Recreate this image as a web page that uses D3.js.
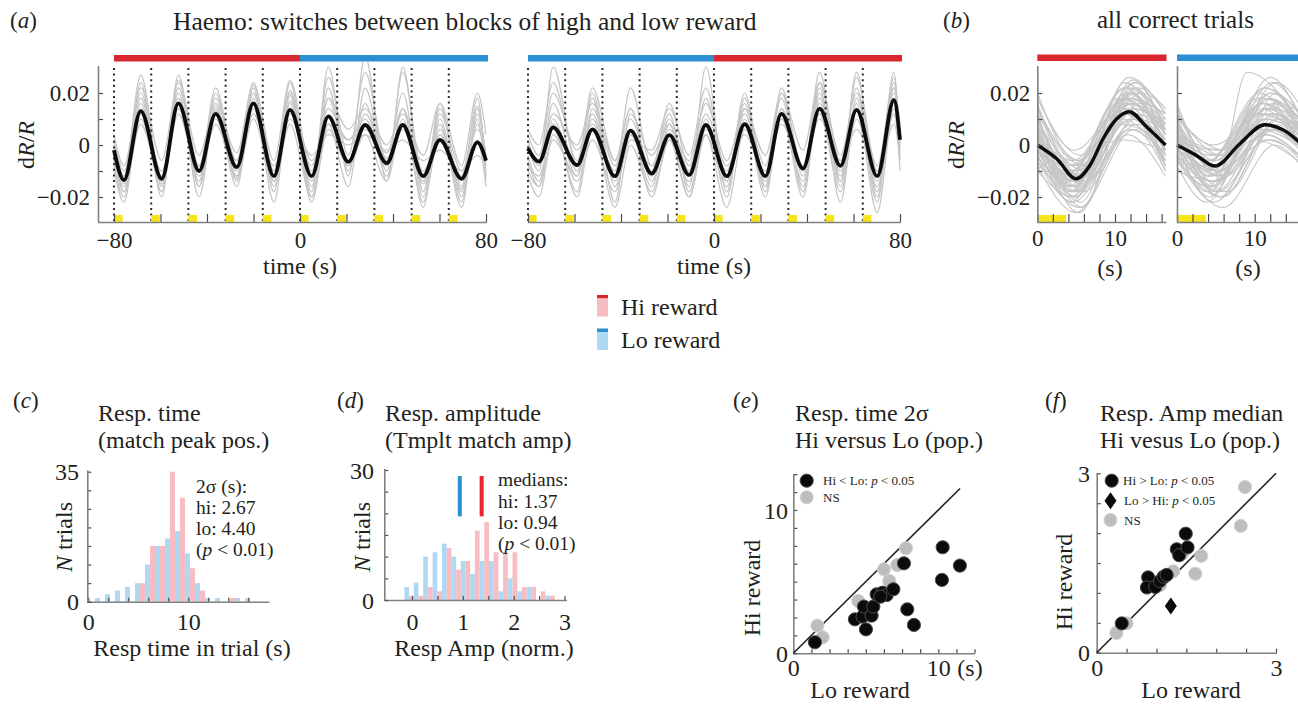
<!DOCTYPE html>
<html>
<head>
<meta charset="utf-8">
<script src="https://cdn.jsdelivr.net/npm/d3@7"></script>
<style>
  body { margin: 0; background: #fff; }
  svg { display: block; }
</style>
</head>
<body>
<svg id="fig" width="1298" height="704"></svg>
<script>
// ---------------------------------------------------------------
// Data (dR/R traces are stored in units of 1e-3)
// ---------------------------------------------------------------

// (a) block-switch traces: knot times (s) for peaks/troughs of each trial
const switchTickValues = [-80, -60, -40, -20, 0, 20, 40, 60, 80];
const switchTickLabels = { "-80": "\u221280", "0": "0", "80": "80" };
const trialOnsets = [-80, -64, -48, -32, -16, 0, 16, 32, 48, 64];
const cueLength = 3.7;
const blocksLeft = [{ start: -80, end: 0, reward: "hi" }, { start: 0, end: 80, reward: "lo" }];
const blocksRight = [{ start: -80, end: 0, reward: "lo" }, { start: 0, end: 80, reward: "hi" }];

const knotsLeft = [-80, -75.7, -68.5, -59.5, -52.3, -43.4, -36.3, -27.2, -20.1, -11.2, -4.3,
  5.0, 12.2, 20.8, 28.0, 37.3, 44.2, 53.0, 60.2, 69.5, 76.3, 80];
const meanLeft = [-2, -13.5, 13, -13, 16, -10, 12, -8.5, 16, -12, 13.5,
  -12, 11, -6.5, 7.7, -7, 7.7, -12, 2, -13, 1, -6];
const sessionsLeft = [
  [-5, -18, 24, -20, 27, -16, 20, -14, 22, -18, 21, -20, 18, -8, 12, -5, 8, -15, 6, -17, 8, -10],
  [2, -10, 20, -12, 22, -8, 18, -6, 24, -10, 20, -14, 26, -4, 28, -6, 20, -20, 10, -22, 12, -4],
  [-8, -20, 14, -18, 18, -14, 15, -12, 20, -16, 17, -6, 8, 2, 6, -3, 14, -10, 4, -12, 15, -8],
  [0, -12, 27, -16, 25, -10, 22, -9, 20, -14, 24, -18, 30, -12, 34, -14, 30, -18, 16, -20, 10, -14],
  [-3, -15, 12, -10, 14, -8, 10, -10, 12, -8, 10, -4, 4, 0, 4, -2, 2, -6, -2, -10, -4, -8],
  [-10, -22, 16, -18, 20, -20, 14, -16, 18, -22, 16, -16, 22, -10, 16, -12, 14, -24, 14, -16, 18, -12],
  [4, -8, 22, -6, 24, -4, 16, -3, 23, -6, 25, -10, 18, 6, 14, 0, 12, -4, 16, -8, 20, 4],
  [-6, -16, 8, -14, 12, -12, 8, -12, 10, -14, 8, -20, 6, -8, 4, -14, 10, -22, 4, -18, 2, -16],
  [-2, -14, 18, -15, 22, -8, 13, -13, 16, -10, 19, -22, 8, -16, 22, -10, 28, -12, 8, -24, 14, -6],
  [-4, -18, 10, -12, 16, -16, 12, -6, 14, -12, 12, -8, 14, 2, 10, -8, 6, -14, 12, -10, 6, -2]
];

const knotsRight = [-80, -75.3, -69.2, -58.9, -52.3, -42.6, -35.9, -26.8, -19.2, -10.7, -3.5,
  5.5, 13.2, 22.1, 29.0, 38.3, 45.4, 54.4, 61.3, 70.2, 77.4, 80];
const meanRight = [-1.3, -6.4, 6.8, -7.7, 6, -12, 5.5, -11, 3.8, -11.5, 7.7,
  -12, 8, -12, 12, -9, 14, -8, 13.5, -12, 17.3, 2];
const sessionsRight = [
  [0, -10, 30, -8, 22, -6, 14, -12, 10, -10, 18, -14, 20, -16, 22, -10, 24, -12, 26, -10, 26, -2],
  [-6, -16, 10, -12, 18, -22, 12, -4, 8, -16, 30, -18, 14, -8, 18, -18, 20, -16, 16, -22, 22, 0],
  [4, -4, 20, -2, 8, -10, 22, -8, 4, -20, 6, -10, 12, -12, 10, -14, 16, -10, 14, -14, 20, 6],
  [-12, -20, 4, -14, 2, -18, 4, -16, 8, -12, 4, -16, 10, -20, 14, -10, 24, -6, 22, -20, 28, -4],
  [2, -8, 16, -10, 12, -14, 6, -20, 2, -14, 10, -20, 18, -14, 20, -12, 28, -14, 28, -18, 24, 4],
  [-8, -12, 6, -18, 14, -8, 10, -10, 16, -8, 12, -8, 4, -10, 8, -8, 10, -6, 6, -10, 8, -6],
  [6, 0, 24, -6, 20, -16, 2, -2, 14, -4, 22, -12, 16, -18, 14, -16, 22, -22, 18, -12, 16, 2],
  [-4, -14, 8, -20, 6, -24, 0, -18, 2, -20, 4, -24, 6, -12, 12, -20, 18, -14, 14, -26, 14, -10],
  [0, -6, 12, 0, 16, -6, 14, -14, 6, -6, 16, -6, 14, -4, 20, -2, 24, -4, 20, -8, 22, 8],
  [-10, -16, 2, -12, 10, -12, 4, -8, 12, -18, 8, -14, 8, -16, 10, -10, 12, -18, 10, -16, 12, -6]
];

const dRTickLabels = { "-20": "\u22120.02", "0": "0", "20": "0.02" };
const dRMinorTicks = [-20, -10, 0, 10, 20];

// (b) all correct trials, 0-16.5 s
const trialTickValues = [0, 2, 4, 6, 8, 10, 12, 14, 16];
const trialTickLabels = { "0": "0", "10": "10" };
const avgHiTimes = [0, 2.5, 5.0, 6.8, 8.5, 10.2, 11.8, 14.1, 16.5];
const avgHi = [0, -5.3, -13, -7.7, 2.6, 10, 12.8, 6.9, 0];
const avgLoTimes = [0, 2.5, 4.9, 8.1, 11.3, 13.7, 16.5];
const avgLo = [0, -4, -8.1, 0.5, 7.8, 5.8, -1];
// each trial: [start value, trough time, trough value, peak time, peak value, end value]
const trialsHi = [
  [10, 4.5, -10, 11.5, 20, 8], [5, 5.0, -14, 12.0, 16, 2], [-2, 4.8, -18, 11.0, 12, -4],
  [14, 5.5, -6, 12.5, 24, 12], [0, 4.2, -20, 12.0, 10, -2], [8, 5.2, -12, 11.8, 18, 4],
  [-6, 4.6, -22, 12.2, 8, -6], [12, 6.0, -8, 13.0, 22, 14], [3, 4.0, -16, 10.8, 14, -8],
  [-4, 5.4, -24, 12.4, 6, -10], [6, 4.4, -10, 11.2, 22, 0], [18, 5.6, -4, 12.8, 20, 10],
  [-8, 5.0, -26, 11.6, 4, -12], [2, 3.8, -14, 10.4, 18, 6], [9, 6.2, -10, 13.2, 16, 12],
  [-1, 4.6, -12, 11.4, 12, 2], [4, 5.3, -18, 12.6, 24, 4], [-3, 4.1, -8, 10.9, 10, -6],
  [11, 5.7, -15, 12.1, 14, 8], [7, 4.9, -20, 11.7, 20, -2], [-5, 5.2, -16, 12.9, 8, 0],
  [1, 4.3, -22, 11.3, 16, -8], [15, 5.8, -12, 12.3, 25, 6], [-10, 4.7, -20, 11.9, 6, -4],
  [6, 3.6, -12, 10.2, 12, 10], [0, 5.5, -8, 13.4, 20, 14], [13, 4.5, -18, 11.1, 18, 2],
  [-2, 6.4, -14, 12.7, 10, 6], [20, 5.1, -6, 11.5, 14, -10], [-7, 4.0, -10, 10.6, 2, -2],
  [3, 5.9, -24, 12.2, 22, 8], [8, 4.8, -16, 11.8, 26, 12],
  [12, 4.3, -14, 11.0, 18, 4], [-4, 5.0, -18, 12.5, 14, 6], [6, 5.6, -22, 12.0, 20, -4],
  [16, 4.7, -8, 11.4, 22, 10], [2, 4.0, -12, 10.8, 8, 0], [-8, 5.3, -14, 12.2, 16, -8],
  [10, 6.0, -18, 13.0, 12, 2], [4, 4.5, -6, 11.6, 18, 12], [-2, 5.1, -20, 11.2, 24, 4],
  [14, 4.9, -10, 12.4, 10, -6], [0, 4.4, -16, 11.9, 16, 8], [8, 5.7, -12, 12.7, 22, -2],
  [-6, 4.2, -18, 10.9, 12, 2], [5, 5.4, -26, 12.1, 18, 6], [18, 4.8, -2, 11.3, 16, 8],
  [-3, 5.0, -14, 12.3, 20, -4]
];
const trialsLo = [
  [8, 4.5, -8, 11.0, 16, 6], [2, 5.2, -12, 11.5, 10, 2], [-4, 4.0, -18, 10.5, 6, -2],
  [12, 5.8, -4, 12.0, 20, 10], [0, 4.6, -14, 11.2, 4, -6], [6, 5.5, -20, 12.4, 12, 4],
  [-8, 3.8, -22, 9.8, 2, -8], [10, 6.2, -2, 12.8, 24, 12], [3, 4.2, -10, 10.8, 8, -4],
  [-2, 5.0, -6, 11.6, 14, 0], [14, 5.3, -12, 9.0, 28, 6], [5, 4.8, -16, 11.8, 18, 8],
  [-6, 6.0, -24, 12.5, 0, -10], [1, 3.5, -8, 10.2, 12, 4], [9, 5.6, -10, 12.2, 6, -2],
  [-3, 4.4, -12, 11.0, 16, 2], [4, 6.5, -18, 13.2, 10, 8], [7, 4.1, -6, 10.6, 20, -4],
  [-10, 5.1, -14, 11.4, 4, -6], [11, 4.7, 0, 11.9, 14, 10], [0, 5.9, -20, 12.6, 8, 0],
  [-5, 3.9, -16, 10.0, 12, 6], [6, 5.4, -4, 11.3, 22, 4], [2, 4.9, -10, 12.1, 2, -8],
  [16, 4.3, -6, 10.4, 18, 12], [-1, 6.1, -12, 12.9, 16, 2], [8, 5.0, -18, 11.7, 6, -2],
  [-7, 4.6, -8, 11.1, 10, 4], [4, 5.7, -2, 12.3, 24, 8], [0, 4.2, -20, 10.9, 14, -4],
  [10, 5.3, -10, 11.6, 12, 6], [-4, 4.8, -14, 12.0, 18, 0],
  [6, 4.4, -16, 11.3, 10, 2], [-2, 5.6, -10, 12.1, 20, 6], [12, 4.9, -6, 10.8, 16, -2],
  [0, 5.2, -18, 12.6, 6, 4], [4, 4.0, -12, 11.0, 18, 8], [-6, 5.8, -20, 12.9, 10, -4],
  [9, 4.6, -14, 11.7, 14, 0], [2, 5.3, -2, 11.2, 22, 10], [-9, 4.3, -16, 10.4, 8, -2],
  [7, 5.0, -8, 12.0, 26, 6], [14, 6.3, -12, 13.0, 12, 2], [-1, 4.8, -22, 11.5, 2, -6],
  [5, 5.5, -10, 12.4, 16, 4], [3, 4.5, -4, 10.7, 12, 10], [-4, 6.0, -18, 12.8, 20, -2],
  [10, 4.2, -12, 11.1, 8, 0]
];

// (c) response-time histogram, 1 s bins
const rtBins = [0, 1, 2, 3, 4, 5, 6, 7, 8, 9, 10, 11, 12, 13, 14, 15];
const rtHi = [0, 0, 0, 0, 0, 5, 15, 15, 35, 28, 9, 3, 0, 0, 1, 0];
const rtLo = [1, 2, 3, 4, 5, 10, 15, 17, 19, 13, 5, 1, 1, 0, 1, 1];
const rtStats = ["2\u03c3 (s):", "hi: 2.67", "lo: 4.40"];

// (d) response-amplitude histogram
const ampBins = [-0.15, 0.035, 0.22, 0.405, 0.59, 0.775, 0.96, 1.145, 1.33, 1.515, 1.70, 1.885, 2.07, 2.255, 2.44, 2.625];
const ampBinWidth = 0.185;
const ampLo = [3, 4, 10, 11, 13, 10, 9, 6, 9, 9, 2, 5, 2, 3, 0, 1];
const ampHi = [1, 1, 3, 2, 12, 7, 9, 16, 18, 11, 11, 11, 3, 3, 2, 1];
const medianHi = 1.37;
const medianLo = 0.94;

// (e) response time 2-sigma per cell (s): [Lo reward, Hi reward]
const rtSigSig = [[1.49, 0.77], [4.25, 2.37], [4.78, 2.56], [4.87, 3.26], [5.01, 1.67], [5.40, 2.63],
  [5.52, 3.26], [5.75, 4.12], [6.16, 4.23], [6.44, 4.07], [6.0, 3.95], [6.9, 4.47], [7.63, 6.28],
  [7.86, 3.07], [8.32, 1.98], [10.3, 7.40], [10.25, 5.12], [11.49, 6.12]];
const rtSigNS = [[1.66, 1.93], [2.02, 1.12], [4.48, 3.65], [6.25, 5.86], [6.62, 5.05], [7.17, 6.16], [7.77, 7.33]];

// (f) response amplitude median per cell: [Lo reward, Hi reward]
const ampHiSig = [[0.42, 0.49], [0.86, 1.26], [0.84, 1.09], [0.98, 1.10], [1.06, 1.20], [1.12, 1.27],
  [1.17, 1.30], [1.34, 1.73], [1.38, 1.63], [1.52, 1.76], [1.49, 1.99]];
const ampLoSig = [[1.24, 0.78]];
const ampNS = [[0.33, 0.33], [0.50, 0.49], [1.06, 1.13], [1.28, 1.36], [1.65, 1.32], [1.75, 1.62],
  [1.43, 1.66], [2.41, 2.12], [2.48, 2.77]];

// ---------------------------------------------------------------
// Styling
// ---------------------------------------------------------------
const FONT = "'Liberation Serif','Times New Roman',Times,serif";
const INK = "#231f20";
const RED = "#d9272e", BLUE = "#2b8fd2";
const PINK = "#f8bcc3", SKY = "#afd8f2";
const YELLOW = "#f6e51b";
const TRACE = "#c6c6c6";
const AXIS = "#808080";

const svg = d3.select("#fig");

function text(x, y, parts, opt = {}) {
  const t = svg.append("text")
    .attr("x", x).attr("y", y)
    .attr("fill", INK)
    .style("font-family", FONT)
    .style("font-size", (opt.size || 24) + "px")
    .attr("text-anchor", opt.anchor || "start");
  if (opt.rotate) t.attr("transform", `rotate(-90,${x},${y})`);
  (Array.isArray(parts) ? parts : [[parts]]).forEach(p => {
    t.append("tspan").text(p[0]).style("font-style", p[1] ? "italic" : "normal");
  });
  return t;
}

function styleAxis(g, fs) {
  g.attr("font-family", null).attr("font-size", null);
  g.select(".domain").remove();
  g.selectAll(".tick line").attr("stroke", "#4a4a4a").attr("stroke-width", 1.2);
  g.selectAll(".tick text").attr("fill", INK).style("font-family", FONT).style("font-size", fs + "px");
}

function bottomAxis(scale, ty, vals, labels, tick, fs, baseline, x0, x1) {
  const g = svg.append("g").attr("transform", `translate(0,${ty})`)
    .call(d3.axisBottom(scale).tickValues(vals)
      .tickFormat(d => labels[String(d)] || "")
      .tickSizeInner(-tick).tickSizeOuter(0));
  styleAxis(g, fs);
  g.selectAll(".tick text").attr("dy", null).attr("y", baseline - ty);
  g.append("line").attr("x1", x0).attr("x2", x1).attr("y1", 0.5).attr("y2", 0.5)
    .attr("stroke", AXIS).attr("stroke-width", 1.6);
  return g;
}

function leftAxis(scale, tx, vals, labels, tick, fs, rightEdge, y0, y1) {
  const g = svg.append("g").attr("transform", `translate(${tx},0)`)
    .call(d3.axisLeft(scale).tickValues(vals)
      .tickFormat(d => labels[String(d)] || "")
      .tickSizeInner(-tick).tickSizeOuter(0));
  styleAxis(g, fs);
  g.selectAll(".tick text").attr("x", rightEdge - tx).attr("dy", "0.34em");
  g.append("line").attr("x1", 0.5).attr("x2", 0.5).attr("y1", y0).attr("y2", y1)
    .attr("stroke", AXIS).attr("stroke-width", 1.6);
  return g;
}

function clip(id, x, y, w, h) {
  svg.append("clipPath").attr("id", id).append("rect")
    .attr("x", x).attr("y", y).attr("width", w).attr("height", h);
  return `url(#${id})`;
}

// ---------------------------------------------------------------
// (a) block switches
// ---------------------------------------------------------------
const yDR = d3.scaleLinear().domain([-30, 30]).range([223, 67]);

function switchPanel(x0, x1, blocks, knots, mean, sessions, id, withYAxis) {
  const x = d3.scaleLinear().domain([-80, 80]).range([x0, x1]);
  const line = d3.line().x((d, i) => x(knots[i])).y(d => yDR(d)).curve(d3.curveMonotoneX);
  const cp = clip(id, x0 - 16, 62, x1 - x0 + 18, 160);

  const traces = svg.append("g").attr("clip-path", cp);
  traces.selectAll("path").data(sessions).join("path")
    .attr("d", line).attr("fill", "none").attr("stroke", TRACE).attr("stroke-width", 1.2);

  svg.append("g").selectAll("line").data(trialOnsets).join("line")
    .attr("x1", d => x(d)).attr("x2", d => x(d)).attr("y1", 68).attr("y2", 221)
    .attr("stroke", "#2a2a2a").attr("stroke-width", 2).attr("stroke-dasharray", "2,3.6");

  svg.append("path").attr("d", line(mean)).attr("fill", "none")
    .attr("stroke", "#0c0c0c").attr("stroke-width", 3.8).attr("stroke-linejoin", "round");

  svg.append("g").selectAll("rect").data(trialOnsets).join("rect")
    .attr("x", d => x(d)).attr("width", d => x(d + cueLength) - x(d))
    .attr("y", 215).attr("height", 7).attr("fill", YELLOW);

  svg.append("g").selectAll("rect").data(blocks).join("rect")
    .attr("x", d => x(d.start)).attr("width", d => x(d.end) - x(d.start) + (d.end === 80 ? 2 : 0))
    .attr("y", 55).attr("height", 6.5)
    .attr("fill", d => d.reward === "hi" ? RED : BLUE);

  bottomAxis(x, 222, switchTickValues, switchTickLabels, 8, 23, 248, withYAxis ? 98 : x0, x1 + 1);
  if (withYAxis) {
    leftAxis(yDR, 98, dRMinorTicks, dRTickLabels, 5, 23, 90, 66, 222);
  }
  text((x0 + x1) / 2, 274, "time (s)", { anchor: "middle", size: 24 });
}

switchPanel(114, 486, blocksLeft, knotsLeft, meanLeft, sessionsLeft, "clipAL", true);
switchPanel(528, 900, blocksRight, knotsRight, meanRight, sessionsRight, "clipAR", false);

text(34, 145, [["d"], ["R", true], ["/"], ["R", true]], { anchor: "middle", rotate: true, size: 24 });
text(10, 28, [["("], ["a", true], [")"]], { size: 23 });
text(173, 30, "Haemo: switches between blocks of high and low reward", { size: 25.5 });

// legend
svg.append("rect").attr("x", 597).attr("y", 295).attr("width", 11).attr("height", 3.5).attr("fill", RED);
svg.append("rect").attr("x", 597).attr("y", 298.5).attr("width", 11).attr("height", 18).attr("fill", PINK);
svg.append("rect").attr("x", 597).attr("y", 328.5).attr("width", 11).attr("height", 3.5).attr("fill", BLUE);
svg.append("rect").attr("x", 597).attr("y", 332).attr("width", 11).attr("height", 18).attr("fill", SKY);
text(621, 315, "Hi reward", { size: 24 });
text(621, 348, "Lo reward", { size: 24 });

// ---------------------------------------------------------------
// (b) all correct trials
// ---------------------------------------------------------------
function trialPanel(x0, reward, times, avg, trials, id, withLabels) {
  const x = d3.scaleLinear().domain([0, 16.5]).range([x0, x0 + 128.2]);
  const cp = clip(id, x0, 62, 140, 160);
  const g = svg.append("g").attr("clip-path", cp);
  const traceLine = d3.line().x(d => x(d[0])).y(d => yDR(d[1])).curve(d3.curveMonotoneX);
  g.selectAll("path").data(trials).join("path")
    .attr("d", d => traceLine([[0, d[0]], [d[1], d[2]], [d[3], d[4]], [16.5, d[5]]]))
    .attr("fill", "none").attr("stroke", TRACE).attr("stroke-width", 1.1);
  const avgLine = d3.line().x((d, i) => x(times[i])).y(d => yDR(d)).curve(d3.curveMonotoneX);
  svg.append("path").attr("d", avgLine(avg)).attr("fill", "none")
    .attr("stroke", "#0c0c0c").attr("stroke-width", 3.4);

  svg.append("rect").attr("x", x(0)).attr("width", x(cueLength) - x(0))
    .attr("y", 215).attr("height", 7).attr("fill", YELLOW);
  svg.append("rect").attr("x", x(0)).attr("width", x(16.5) - x(0) + 1)
    .attr("y", 54.5).attr("height", 6.5).attr("fill", reward === "hi" ? RED : BLUE);

  bottomAxis(x, 222, trialTickValues, trialTickLabels, 8, 23, 246, x0, x(16.5) + 1);
  leftAxis(yDR, x0, dRMinorTicks, withLabels ? dRTickLabels : {}, 5, 23, x0 - 7, 66, 222);
}
trialPanel(1037.3, "hi", avgHiTimes, avgHi, trialsHi, "clipBH", true);
trialPanel(1177, "lo", avgLoTimes, avgLo, trialsLo, "clipBL", false);
text(1110, 276, "(s)", { anchor: "middle", size: 24 });
text(1248, 276, "(s)", { anchor: "middle", size: 24 });
text(964, 145, [["d"], ["R", true], ["/"], ["R", true]], { anchor: "middle", rotate: true, size: 24 });
text(943, 28, [["("], ["b", true], [")"]], { size: 23 });
text(1097, 28, "all correct trials", { size: 25 });

// ---------------------------------------------------------------
// (c) response time histogram
// ---------------------------------------------------------------
const TITLE1 = 421, TITLE2 = 448;
{
  const x = d3.scaleLinear().domain([0, 10]).range([88.3, 188.3]);
  const y = d3.scaleLinear().domain([0, 35]).range([601.7, 471.7]);
  svg.append("g").selectAll("rect").data(rtBins).join("rect")
    .attr("x", d => x(d + 0.17)).attr("width", x(0.5) - x(0))
    .attr("y", (d, i) => y(rtHi[i])).attr("height", (d, i) => y(0) - y(rtHi[i]))
    .attr("fill", PINK);
  svg.append("g").selectAll("rect").data(rtBins).join("rect")
    .attr("x", d => x(d + 0.67)).attr("width", x(0.5) - x(0))
    .attr("y", (d, i) => y(rtLo[i])).attr("height", (d, i) => y(0) - y(rtLo[i]))
    .attr("fill", SKY);
  bottomAxis(x, 601.7, [0, 2, 4, 6, 8, 10, 12, 14, 16], { "0": "0", "10": "10" }, 4, 24, 630, 87.3, 269.5);
  leftAxis(y, 87.3, [0, 5, 10, 15, 20, 25, 30, 35], { "0": "0", "35": "35" }, 4, 24, 79, 470.5, 602);

  text(13, 408, [["("], ["c", true], [")"]], { size: 23 });
  text(98, TITLE1, "Resp. time", { size: 24 });
  text(98, TITLE2, "(match peak pos.)", { size: 24 });
  text(72, 537, [["N", true], [" trials"]], { anchor: "middle", rotate: true, size: 24 });
  text(192, 656, "Resp time in trial (s)", { anchor: "middle", size: 24 });
  rtStats.forEach((s, i) => text(196, 493 + i * 21, s, { size: 19.5 }));
  text(196, 556, [["("], ["p", true], [" < 0.01)"]], { size: 19.5 });
}

// ---------------------------------------------------------------
// (d) response amplitude histogram
// ---------------------------------------------------------------
{
  const x = d3.scaleLinear().domain([0, 3]).range([412, 564.5]);
  const y = d3.scaleLinear().domain([0, 30]).range([600, 470]);
  const half = ampBinWidth / 2;
  svg.append("g").selectAll("rect").data(ampBins).join("rect")
    .attr("x", d => x(d)).attr("width", x(half) - x(0))
    .attr("y", (d, i) => y(ampLo[i])).attr("height", (d, i) => y(0) - y(ampLo[i]))
    .attr("fill", SKY);
  svg.append("g").selectAll("rect").data(ampBins).join("rect")
    .attr("x", d => x(d + half)).attr("width", x(half) - x(0))
    .attr("y", (d, i) => y(ampHi[i])).attr("height", (d, i) => y(0) - y(ampHi[i]))
    .attr("fill", PINK);
  [[medianLo, BLUE], [medianHi, "#e8232e"]].forEach(([m, c]) => {
    svg.append("rect").attr("x", x(m) - 2).attr("width", 4)
      .attr("y", y(28.6)).attr("height", y(19.3) - y(28.6)).attr("fill", c);
  });
  bottomAxis(x, 600, [0, 0.5, 1, 1.5, 2, 2.5, 3], { "0": "0", "1": "1", "2": "2", "3": "3" }, 4, 24, 630, 384.3, 567);
  leftAxis(y, 384.3, [0, 5, 10, 15, 20, 25, 30], { "0": "0", "30": "30" }, 4, 24, 374, 469, 600.5);

  text(337, 408, [["("], ["d", true], [")"]], { size: 23 });
  text(385, TITLE1, "Resp. amplitude", { size: 24 });
  text(385, TITLE2, "(Tmplt match amp)", { size: 24 });
  text(370, 537, [["N", true], [" trials"]], { anchor: "middle", rotate: true, size: 24 });
  text(484, 656, "Resp Amp (norm.)", { anchor: "middle", size: 24 });
  text(498, 486, "medians:", { size: 19.5 });
  text(498, 507.5, "hi: " + medianHi.toFixed(2), { size: 19.5 });
  text(498, 529, "lo: " + medianLo.toFixed(2), { size: 19.5 });
  text(498, 550, [["("], ["p", true], [" < 0.01)"]], { size: 19.5 });
}

// ---------------------------------------------------------------
// (e) response-time spread, Hi vs Lo
// ---------------------------------------------------------------
function dot(g, cx, cy, black) {
  g.append("circle").attr("cx", cx).attr("cy", cy).attr("r", 6.6)
    .attr("fill", black ? "#0b0b0b" : "#bdbdbd")
    .attr("stroke", black ? "#4d4d4d" : "#d4d4d4").attr("stroke-width", 1);
}
function diamond(g, cx, cy) {
  g.append("path").attr("d", `M${cx},${cy - 8.5}L${cx + 6},${cy}L${cx},${cy + 8.5}L${cx - 6},${cy}Z`)
    .attr("fill", "#0b0b0b");
}
{
  const x = d3.scaleLinear().domain([0, 10]).range([793.3, 938.3]);
  const y = d3.scaleLinear().domain([0, 10]).range([653.3, 510]);
  const ticks = [0, 1.25, 2.5, 3.75, 5, 6.25, 7.5, 8.75, 10, 11.25, 12.5];
  bottomAxis(x, 653.3, ticks, { "0": "0", "10": "10" }, 4, 24, 676, 793.3, 975);
  leftAxis(y, 793.3, ticks, { "0": "0", "10": "10" }, 4, 24, 788, 475, 653.5);
  text(970, 676, "(s)", { anchor: "middle", size: 24 });
  svg.append("line").attr("x1", x(0)).attr("y1", y(0)).attr("x2", x(11.5)).attr("y2", y(11.5))
    .attr("stroke", "#222").attr("stroke-width", 1.6);
  const g = svg.append("g");
  rtSigNS.forEach(d => dot(g, x(d[0]), y(d[1]), false));
  rtSigSig.forEach(d => dot(g, x(d[0]), y(d[1]), true));
  dot(g, 806.7, 480.7, true);
  dot(g, 806.7, 497.3, false);
  text(823, 485, [["Hi < Lo: "], ["p", true], [" < 0.05"]], { size: 13 });
  text(823, 502, "NS", { size: 13 });

  text(733, 408, [["("], ["e", true], [")"]], { size: 23 });
  text(795, TITLE1, "Resp. time 2\u03c3", { size: 24 });
  text(795, TITLE2, "Hi versus Lo (pop.)", { size: 24 });
  text(760, 588, "Hi reward", { anchor: "middle", rotate: true, size: 24 });
  text(860, 698, "Lo reward", { anchor: "middle", size: 24 });
}

// ---------------------------------------------------------------
// (f) response amplitude median, Hi vs Lo
// ---------------------------------------------------------------
{
  const x = d3.scaleLinear().domain([0, 3]).range([1096.7, 1276]);
  const y = d3.scaleLinear().domain([0, 3]).range([652.7, 473.3]);
  const ticks = [0, 0.5, 1, 1.5, 2, 2.5, 3];
  bottomAxis(x, 652.7, ticks, { "0": "0", "3": "3" }, 4, 24, 676, 1096.7, 1277);
  leftAxis(y, 1096.7, ticks, { "0": "0", "3": "3" }, 4, 24, 1090, 473, 653);
  svg.append("line").attr("x1", x(0)).attr("y1", y(0)).attr("x2", x(3)).attr("y2", y(3))
    .attr("stroke", "#222").attr("stroke-width", 1.6);
  const g = svg.append("g");
  ampNS.forEach(d => dot(g, x(d[0]), y(d[1]), false));
  ampHiSig.forEach(d => dot(g, x(d[0]), y(d[1]), true));
  ampLoSig.forEach(d => diamond(g, x(d[0]), y(d[1])));
  dot(g, 1111.7, 480.7, true);
  diamond(g, 1110.5, 500.7);
  dot(g, 1110.5, 520, false);
  text(1123, 485, [["Hi > Lo: "], ["p", true], [" < 0.05"]], { size: 13 });
  text(1124, 505, [["Lo > Hi: "], ["p", true], [" < 0.05"]], { size: 13 });
  text(1124, 524.5, "NS", { size: 13 });

  text(1045, 408, [["("], ["f", true], [")"]], { size: 23 });
  text(1100, TITLE1, "Resp. Amp median", { size: 24 });
  text(1100, TITLE2, "Hi vesus Lo (pop.)", { size: 24 });
  text(1072, 582, "Hi reward", { anchor: "middle", rotate: true, size: 24 });
  text(1191, 698, "Lo reward", { anchor: "middle", size: 24 });
}
</script>
</body>
</html>
